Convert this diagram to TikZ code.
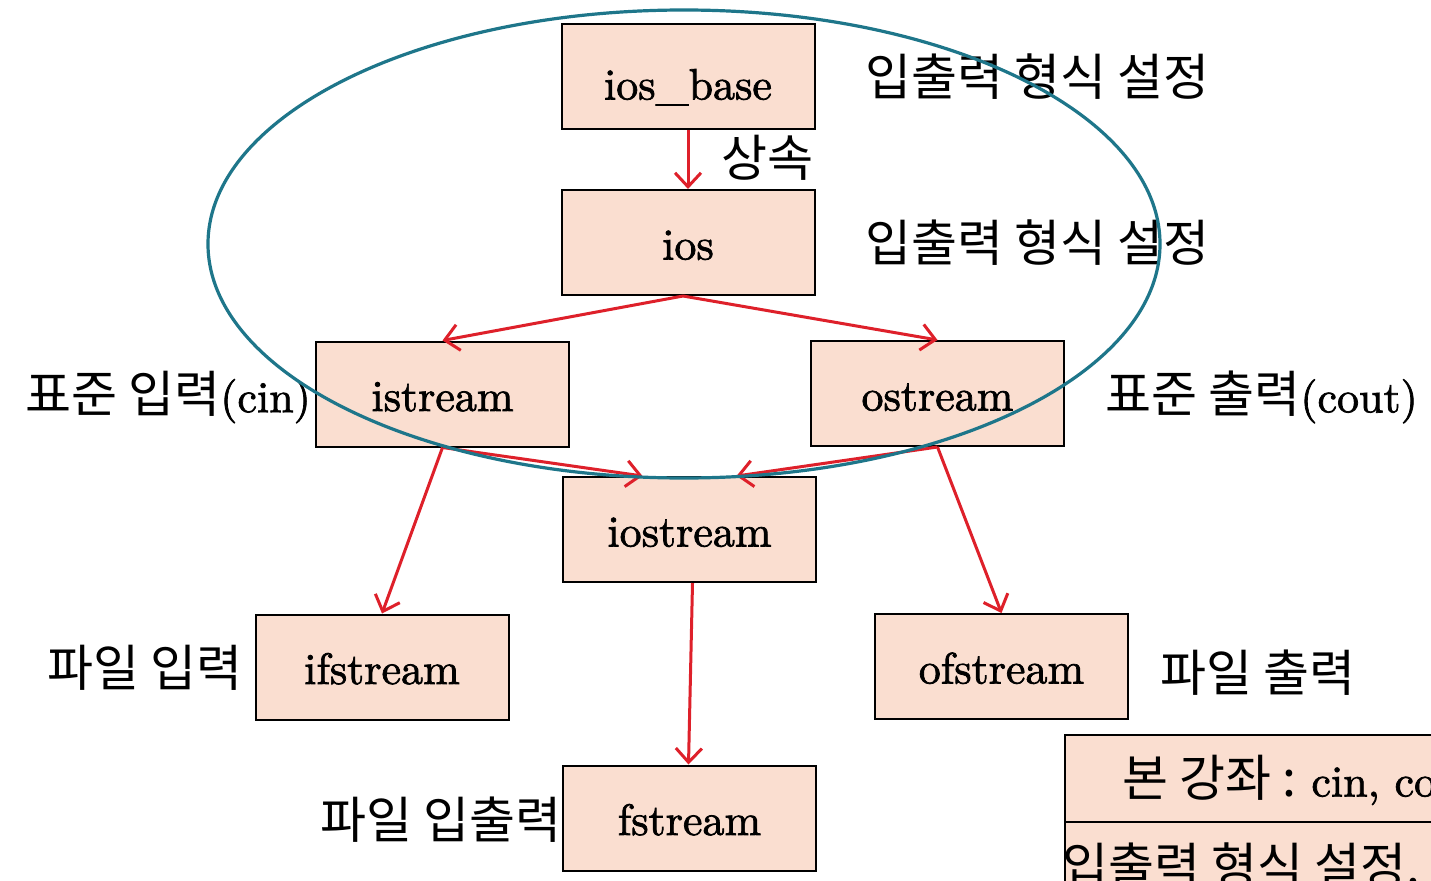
\documentclass[tikz,border=0pt]{standalone}
\usepackage{fontspec}
\newfontfamily\latf{lmroman10-regular.otf}[FakeBold=1.6]
\newfontfamily\kr{Noto Sans CJK KR}
\usetikzlibrary{arrows.meta,shapes.geometric}
\definecolor{boxfill}{RGB}{250,222,208}
\definecolor{arrred}{RGB}{222,32,42}
\definecolor{ellteal}{RGB}{30,118,138}
\newcommand{\lat}{\latf\fontsize{44}{50}\selectfont}
\tikzset{
  cls/.style={draw=black, line width=2pt, fill=boxfill, minimum width=253pt, minimum height=105pt, inner sep=0pt, text height=34pt, text depth=0pt, font=\lat},
  lbl/.style={inner sep=0pt, font=\fontsize{50}{56}\selectfont\kr},
  inh/.style={draw=arrred, line width=3pt, -{Straight Barb[length=14pt,width=26pt,line width=3pt]}},
}
\begin{document}
\begin{tikzpicture}[x=1pt,y=-1pt]
\clip (0,0) rectangle (1431,880);
\fill[white] (0,0) rectangle (1431,880);
% classes
\node[cls, text height=46pt] (iosbase) at (688,76.5) {ios\_base};
\node[cls] (ios) at (688,242.5) {ios};
\node[cls] (istream) at (442.5,394) {istream};
\node[cls] (ostream) at (937.5,393.5) {ostream};
\node[cls] (iostream) at (689.5,529.5) {iostream};
\node[cls] (ifstream) at (382,667) {ifstream};
\node[cls] (ofstream) at (1001.5,666.5) {ofstream};
\node[cls] (fstream) at (689.5,818) {fstream};
% bottom-right box
\node[draw=black, line width=2pt, fill=boxfill, minimum width=420pt, minimum height=87pt, inner sep=0pt, anchor=north west] (note) at (1064,734) {};
\node[draw=black, line width=2pt, fill=boxfill, minimum width=420pt, minimum height=90pt, inner sep=0pt, anchor=north west] (note2) at (1064,821) {};
\node[lbl, anchor=west] (notet) at (1122,780) {본 강좌 : \lat cin, cout};
\node[lbl, anchor=west] (note2t) at (1062,866) {입출력 형식 설정.};
% labels
\node[lbl, anchor=west] (l1) at (865,77) {입출력 형식 설정};
\node[lbl, anchor=west] (l2) at (721,158) {상속};
\node[lbl, anchor=west] (l3) at (865,243) {입출력 형식 설정};
\node[lbl, anchor=east] (l4) at (311,397) {표준 입력\lat(cin)};
\node[lbl, anchor=west] (l5) at (1105,397) {표준 출력\lat(cout)};
\node[lbl, anchor=west] (l6) at (47,668) {파일 입력};
\node[lbl, anchor=west] (l7) at (1160,673) {파일 출력};
\node[lbl, anchor=east] (l8) at (562,820) {파일 입출력};
% arrows
\draw[inh] (iosbase.south) -- (ios.north);
\draw[inh] (ios.south) ++(-5,0) coordinate (iosb) -- (istream.north);
\draw[inh] (iosb) -- (ostream.north);
\draw[inh] (istream.south) -- ([xshift=-47pt]iostream.north);
\draw[inh] (ostream.south) -- ([xshift=47pt]iostream.north);
\draw[inh] (istream.south) -- (ifstream.north);
\draw[inh] (ostream.south) -- (ofstream.north);
\draw[inh] ([xshift=3pt]iostream.south) -- ([xshift=-1pt]fstream.north);
% ellipse
\node[draw=ellteal, line width=3.2pt, ellipse, minimum width=952pt, minimum height=468pt, inner sep=0pt] (grp) at (684,244) {};
\end{tikzpicture}
\end{document}
